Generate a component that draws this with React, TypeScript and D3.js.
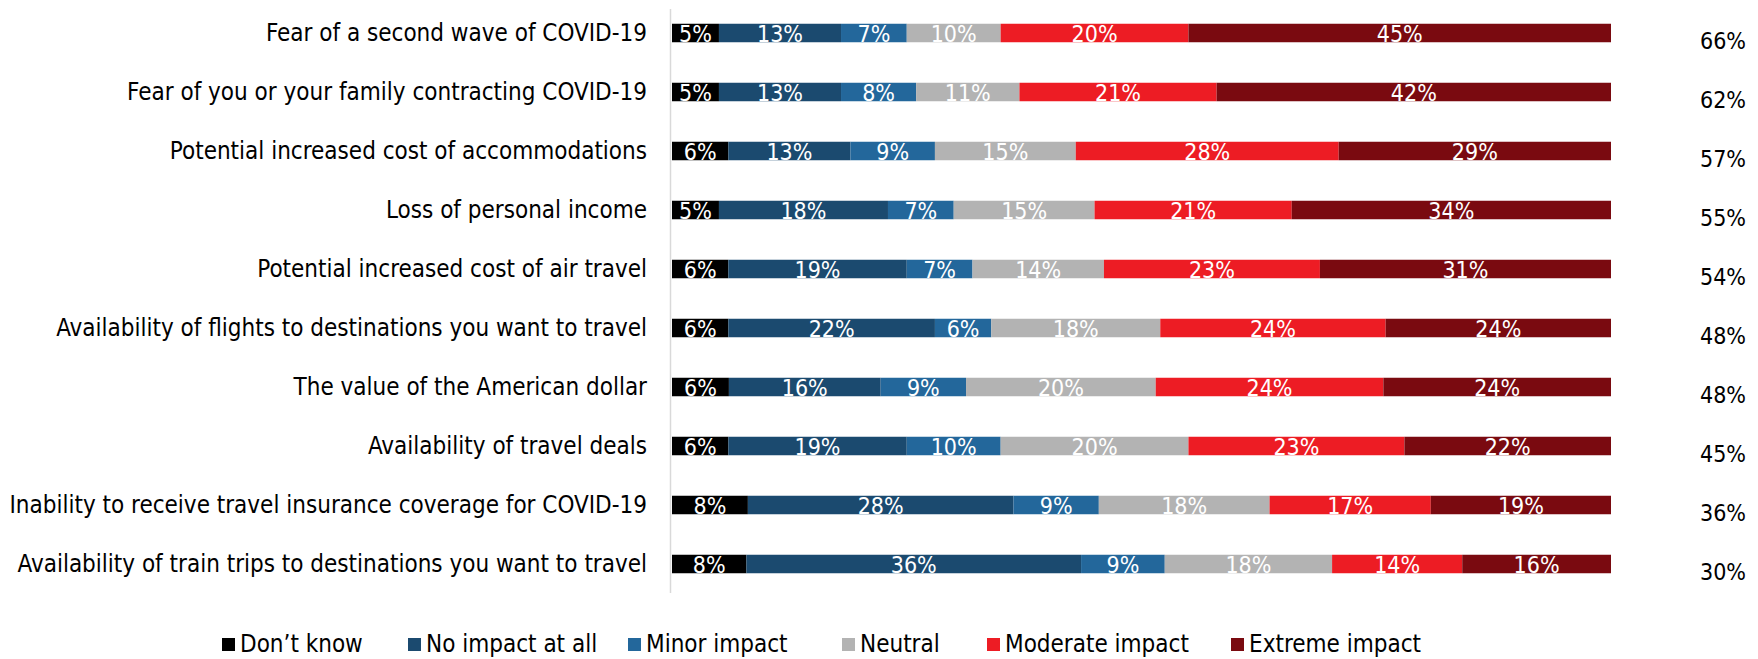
import React from "react";
import * as d3 from "d3";

const categories = [
  "Fear of a second wave of COVID-19",
  "Fear of you or your family contracting COVID-19",
  "Potential increased cost of accommodations",
  "Loss of personal income",
  "Potential increased cost of air travel",
  "Availability of flights to destinations you want to travel",
  "The value of the American dollar",
  "Availability of travel deals",
  "Inability to receive travel insurance coverage for COVID-19",
  "Availability of train trips to destinations you want to travel",
];

const seriesNames = ["Don’t know", "No impact at all", "Minor impact", "Neutral", "Moderate impact", "Extreme impact"];
const seriesColors = ["#000000", "#1B4A6F", "#23679B", "#B3B3B3", "#ED1C24", "#7A0A10"];

const dontKnow = [5, 5, 6, 5, 6, 6, 6, 6, 8, 8];
const noImpact = [13, 13, 13, 18, 19, 22, 16, 19, 28, 36];
const minorImpact = [7, 8, 9, 7, 7, 6, 9, 10, 9, 9];
const neutral = [10, 11, 15, 15, 14, 18, 20, 20, 18, 18];
const moderateImpact = [20, 21, 28, 21, 23, 24, 24, 23, 17, 14];
const extremeImpact = [45, 42, 29, 34, 31, 24, 24, 22, 19, 16];

const totals = ["66%", "62%", "57%", "55%", "54%", "48%", "48%", "45%", "36%", "30%"];

const seriesValues = [dontKnow, noImpact, minorImpact, neutral, moderateImpact, extremeImpact];

const W = 1758;
const H = 659;
const FONT = "'Liberation Sans Narrow', 'Arial Narrow', 'DejaVu Sans Condensed', sans-serif";

export default function App() {
  const x = d3.scaleLinear().domain([0, 1]).range([672, 1611]);
  const y = d3.scaleBand<string>().domain(categories).range([3.5, 593.5]).padding(0);
  const bw = y.bandwidth();
  const barH = 18.5;

  const rows = categories.map((c, i) => {
    const vals = seriesValues.map((s) => s[i]);
    const sum = d3.sum(vals);
    let acc = 0;
    return vals.map((v, k) => {
      const x0 = acc / sum;
      acc += v;
      const x1 = acc / sum;
      return { k, v, x0, x1 };
    });
  });

  const legendX = [222, 408, 628, 842, 987, 1231];

  return (
    <svg width={W} height={H} style={{ position: "absolute", left: 0, top: 0, background: "#fff" }} fontFamily={FONT}>
      <line x1={670.5} x2={670.5} y1={9} y2={593} stroke="#D9D9D9" strokeWidth={1.5} />
      {categories.map((c, i) => {
        const cy = (y(c) as number) + bw / 2;
        return (
          <g key={c}>
            <text x={647} y={cy} textAnchor="end" dominantBaseline="central" fontSize={24} fill="#000">
              {c}
            </text>
            {rows[i].map((seg) => (
              <rect
                key={seg.k}
                x={x(seg.x0)}
                width={x(seg.x1) - x(seg.x0)}
                y={cy - barH / 2}
                height={barH}
                fill={seriesColors[seg.k]}
              />
            ))}
            {rows[i].map((seg) => (
              <text
                key={"l" + seg.k}
                x={(x(seg.x0) + x(seg.x1)) / 2}
                y={cy + 1}
                textAnchor="middle"
                dominantBaseline="central"
                fontSize={23}
                fill="#fff"
              >
                {seg.v}%
              </text>
            ))}
            <text x={1746} y={cy + 8} textAnchor="end" dominantBaseline="central" fontSize={23} fill="#000">
              {totals[i]}
            </text>
          </g>
        );
      })}
      {seriesNames.map((n, k) => (
        <g key={n}>
          <rect x={legendX[k]} y={638} width={13} height={13} fill={seriesColors[k]} />
          <text x={legendX[k] + 18} y={644} dominantBaseline="central" fontSize={24} fill="#000">
            {n}
          </text>
        </g>
      ))}
    </svg>
  );
}
